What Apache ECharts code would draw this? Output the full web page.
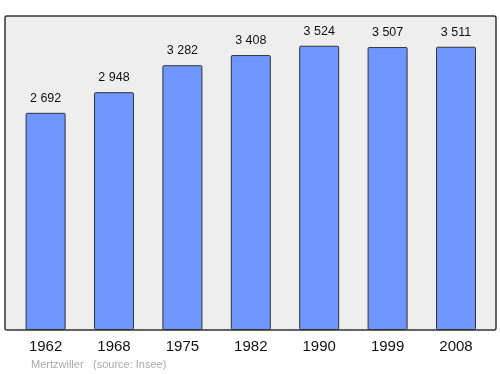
<!DOCTYPE html>
<html><head><meta charset="utf-8">
<script src="https://cdn.jsdelivr.net/npm/echarts@6/dist/echarts.min.js"></script>
<style>html,body{margin:0;padding:0;background:#fff}#c{width:500px;height:374px}</style>
</head><body><div id="c"></div>
<script>
var categories = ['1962','1968','1975','1982','1990','1999','2008'];
var population = [2692, 2948, 3282, 3408, 3524, 3507, 3511];
var valueLabels = ['2 692','2 948','3 282','3 408','3 524','3 507','3 511'];
var footer = ['Mertzwiller', '(source: Insee)'];

var chart = echarts.init(document.getElementById('c'), null, {renderer:'canvas'});
chart.setOption({
  animation: false,
  backgroundColor: '#ffffff',
  graphic: [
    {type:'rect', z:-10, shape:{x:5, y:16, width:491, height:314, r:2},
     style:{fill:'#eeeeee', stroke:'#333333', lineWidth:1.5}},
    {type:'text', left:31, top:359, style:{text:footer[0], fill:'#aaaaaa', font:'11px "Liberation Sans", Arial, sans-serif'}},
    {type:'text', left:93, top:359, style:{text:footer[1], fill:'#aaaaaa', font:'11px "Liberation Sans", Arial, sans-serif'}}
  ],
  grid: {left:11.4, right:9.8, top:16, bottom:44, containLabel:false},
  xAxis: {
    type:'category', data:categories,
    axisLine:{show:false}, axisTick:{show:false},
    axisLabel:{color:'#111', fontSize:15, fontFamily:'"Liberation Sans", Arial, sans-serif', margin:9.5}
  },
  yAxis: {
    type:'value', min:0, max:3892, show:false, splitLine:{show:false}
  },
  series: [{
    type:'bar', data:population, barWidth:40,
    itemStyle:{color:'#6f96ff', borderColor:'#333333', borderWidth:1, borderRadius:1},
    label:{show:true, position:'top', distance:8, color:'#111', fontSize:12.5,
      fontFamily:'"Liberation Sans", Arial, sans-serif',
      formatter:function(p){return valueLabels[p.dataIndex];}}
  }]
});
</script></body></html>
